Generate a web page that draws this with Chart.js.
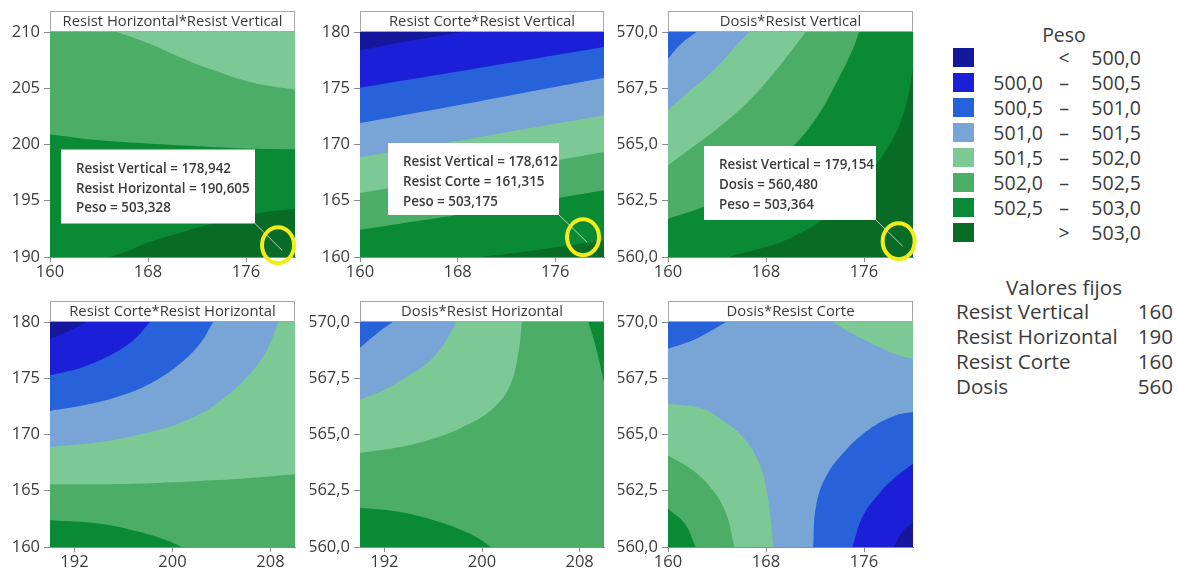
<!DOCTYPE html>
<html>
<head>
<meta charset="utf-8">
<script src="https://cdn.jsdelivr.net/npm/chart.js@4.4.1/dist/chart.umd.min.js"></script>
<style>
  body { margin: 0; background: #fff; width: 1177px; height: 571px; overflow: hidden; position: relative;
         font-family: 'Open Sans', sans-serif; color: #3b3b3b; }
  canvas { position: absolute; }
  .lg { position: absolute; white-space: nowrap; line-height: 24px; height: 24px; font-size: 19.5px; }
  .fx { font-size: 20.6px; }
  .sw { position: absolute; width: 21px; height: 19px; box-sizing: border-box; }
</style>
</head>
<body>
<canvas id="pHV"></canvas>
<canvas id="pCV"></canvas>
<canvas id="pDV"></canvas>
<canvas id="pCH"></canvas>
<canvas id="pDH"></canvas>
<canvas id="pDC"></canvas>
<div id="legend"></div>
<script>
// ---- Peso bands ----
const pesoBreaks = ['500,0', '500,5', '501,0', '501,5', '502,0', '502,5', '503,0'];
const bandColors = ['#15189a', '#1b20d8', '#2762da', '#79a5d6', '#7cc995', '#4bad66', '#0b8a35', '#086c27'];

// ---- fixed factor settings ----
const fixedNames = ['Resist Vertical', 'Resist Horizontal', 'Resist Corte', 'Dosis'];
const fixedValues = [160, 190, 160, 560];

// ---- axis ticks ----
const vertTicks = [160, 168, 176];
const horzTicks = [192, 200, 208];
const horzYTicks = [190, 195, 200, 205, 210];
const corteYTicks = [160, 165, 170, 175, 180];
const dosisYTicks = [560, 562.5, 565, 567.5, 570];

// ---- Resist Horizontal * Resist Vertical (x: Vertical, y: Horizontal) ----
const hvBand4 = [[165.5,210],[166.8,209.5],[168.1,208.97],[170.2,207.95],[172.2,207.04],[174.3,206.25],[176.3,205.56],[178.2,205.15],[180,204.88],[180,210]];
const hvBand6 = [[160,200.88],[164,200.37],[168,200.08],[172,199.84],[176,199.65],[180,199.57],[180,190],[160,190]];
const hvBand7 = [[164.9,190],[166.5,190.6],[168.1,191.33],[170.85,192.22],[173.3,192.97],[176.7,193.86],[180,194.3],[180,190]];
const hvProbe = [178.942, 190.605, 503.328];

// ---- Resist Corte * Resist Vertical (x: Vertical, y: Corte) ----
const cvBand5 = [[160,162.43],[170,164.1],[180,165.93],[180,180],[160,180]];
const cvBand4 = [[160,165.69],[170,167.45],[180,169.33],[180,180],[160,180]];
const cvBand3 = [[160,168.89],[170,170.7],[180,172.59],[180,180],[160,180]];
const cvBand2 = [[160,171.91],[170,173.9],[180,175.94],[180,180],[160,180]];
const cvBand1 = [[160,175.05],[170,176.85],[180,178.67],[180,180],[160,180]];
const cvBand0 = [[160,178.37],[164,179.2],[168.3,180],[160,180]];
const cvBand7 = [[169.8,160],[175,160.7],[180,161.48],[180,160]];
const cvProbe = [178.612, 161.315, 503.175];

// ---- Dosis * Resist Vertical (x: Vertical, y: Dosis) ----
const dvBand6 = [[165.0,560],[170.17,560.89],[174.51,562.52],[178.04,564.96],[179.39,566.67],[180,568.39],[180,570],[160,570],[160,560]];
const dvBand5 = [[160,561.7],[162.85,562.22],[165.56,562.96],[168.27,564.0],[170.44,565.04],[172.34,566.37],[173.7,567.7],[175.05,569.19],[175.6,570],[160,570]];
const dvBand4 = [[160,564.07],[162.03,564.89],[164.2,565.78],[166.37,566.81],[168.27,567.93],[169.9,569.04],[171.26,570],[160,570]];
const dvBand3 = [[160,566.52],[161.49,567.26],[163.12,568.0],[164.75,568.89],[165.83,569.56],[166.64,570],[160,570]];
const dvBand2 = [[160,568.81],[161.08,569.48],[162.31,570],[160,570]];
const dvProbe = [179.154, 560.480, 503.364];

// ---- Resist Corte * Resist Horizontal (x: Horizontal, y: Corte) ----
const chBand6 = [[190,160],[190,162.37],[194.08,162.07],[197.35,161.33],[199.52,160.59],[200.75,160]];
const chBand4 = [[190,165.57],[196.8,165.63],[202.24,165.87],[206.33,166.13],[210,166.46],[210,180],[190,180]];
const chBand3 = [[190,168.89],[194.08,169.33],[198.16,170.22],[201.2,171.3],[203.6,172.74],[206.33,175.41],[207.69,177.48],[208.64,180],[190,180]];
const chBand2 = [[190,172.09],[192.72,172.59],[195.44,173.33],[198.16,174.52],[200.61,176.3],[202.24,178.07],[203.33,180],[190,180]];
const chBand1 = [[190,175.26],[192.72,176.0],[195.17,177.19],[196.8,178.37],[198.16,180],[190,180]];
const chBand0 = [[190,178.52],[191.36,179.11],[193.0,180],[190,180]];

// ---- Dosis * Resist Horizontal (x: Horizontal, y: Dosis) ----
const dhBand4 = [[190,564.18],[193.27,564.44],[195.99,564.81],[198.71,565.41],[200.88,566.15],[202.24,567.11],[202.93,568.44],[203.28,570],[190,570]];
const dhBand3 = [[190,566.55],[191.9,566.96],[193.81,567.56],[195.44,568.15],[196.8,568.96],[197.89,570],[190,570]];
const dhBand2 = [[190,568.86],[191.36,569.48],[192.67,570],[190,570]];
const dhBand6a = [[208.72,570],[209.18,569.19],[209.59,568.3],[210,567.33],[210,570]];
const dhBand6b = [[190,560],[190,561.75],[193.27,561.56],[196.53,561.11],[199.25,560.52],[200.75,560]];

// ---- Dosis * Resist Corte (x: Corte, y: Dosis) ----
const dcBand2a = [[160,568.81],[162.03,569.19],[163.66,569.66],[164.75,570],[160,570]];
const dcBand4a = [[173.43,570],[175.05,569.48],[177.22,568.89],[178.85,568.52],[180,568.37],[180,570]];
const dcBand4b = [[160,566.37],[162.85,566.15],[164.5,565.6],[166.1,564.9],[167.46,563.7],[168.14,562.22],[168.6,560],[160,560]];
const dcBand5 = [[160,564.07],[162.03,563.41],[163.66,562.52],[164.75,561.48],[165.42,560],[160,560]];
const dcBand6 = [[160,561.7],[161.36,561.04],[162.25,560],[160,560]];
const dcBand2b = [[171.85,560],[172.07,561.78],[172.88,563.11],[174.51,564.3],[176.68,565.33],[178.58,565.85],[180,566.0],[180,560]];
const dcBand1 = [[175.05,560],[175.87,561.33],[177.22,562.37],[178.58,563.11],[180,563.7],[180,560]];
const dcBand0 = [[178.44,560],[179.12,560.67],[180,561.11],[180,560]];

// ---------------------------------------------------------------
const TEXT = '#3b3b3b';
const FONT = "'Open Sans', sans-serif";
const comma = (v, d) => v.toFixed(d).replace('.', ',');

function rect(xr, yr) {
  return [[xr[0], yr[0]], [xr[1], yr[0]], [xr[1], yr[1]], [xr[0], yr[1]]];
}

// Points lying on the plot frame are polygon corners: repeating them keeps
// the spline sharp there while the contour curve between them stays smooth.
function toPoints(points, xr, yr) {
  const out = [];
  points.forEach(([x, y]) => {
    const onFrame = x === xr[0] || x === xr[1] || y === yr[0] || y === yr[1];
    out.push({ x, y });
    if (onFrame) out.push({ x, y });
  });
  return out;
}

function bandSet(points, band, i, xr, yr) {
  return {
    data: toPoints(points, xr, yr),
    backgroundColor: bandColors[band],
    borderWidth: 0,
    pointRadius: 0,
    tension: 0.4,
    fill: 'shape',
    order: -i
  };
}

function headerPlugin(title) {
  return {
    id: 'header',
    afterDraw(chart) {
      const { ctx, chartArea: ca } = chart;
      ctx.save();
      ctx.fillStyle = '#fff';
      ctx.fillRect(ca.left, ca.top - 20, ca.right - ca.left, 20);
      ctx.strokeStyle = '#a6a6a6';
      ctx.lineWidth = 1;
      ctx.strokeRect(ca.left + 0.5, ca.top - 20.5, ca.right - ca.left - 1, 20);
      ctx.fillStyle = TEXT;
      ctx.font = `14.8px ${FONT}`;
      ctx.textAlign = 'center';
      ctx.textBaseline = 'middle';
      ctx.fillText(title, (ca.left + ca.right) / 2, ca.top - 10);
      ctx.restore();
    }
  };
}

function probePlugin(probe, names, box) {
  return {
    id: 'probe',
    afterDraw(chart) {
      const { ctx, chartArea: ca, scales } = chart;
      const px = scales.x.getPixelForValue(probe[0]);
      const py = scales.y.getPixelForValue(probe[1]);
      const bx = ca.left + box[0], by = ca.top + box[1], bw = box[2], bh = box[3];
      ctx.save();
      ctx.strokeStyle = 'rgba(205,220,205,0.85)';
      ctx.lineWidth = 1;
      ctx.beginPath();
      ctx.moveTo(bx + bw, by + bh);
      ctx.lineTo(px, py);
      ctx.stroke();
      ctx.fillStyle = '#fff';
      ctx.fillRect(bx, by, bw, bh);
      ctx.fillStyle = TEXT;
      ctx.font = `600 13.4px ${FONT}`;
      ctx.textAlign = 'left';
      ctx.textBaseline = 'middle';
      const lines = [
        `${names[0]} = ${comma(probe[0], 3)}`,
        `${names[1]} = ${comma(probe[1], 3)}`,
        `Peso = ${comma(probe[2], 3)}`
      ];
      lines.forEach((t, k) => ctx.fillText(t, bx + 15, by + 19.5 + k * 19.8));
      ctx.strokeStyle = '#f2ec18';
      ctx.lineWidth = 4;
      ctx.beginPath();
      ctx.ellipse(px - 4, py - 5, 16, 18, 0, 0, Math.PI * 2);
      ctx.stroke();
      ctx.restore();
    }
  };
}

function panel(cfg) {
  const plotW = cfg.plot[2], plotH = cfg.plot[3];
  const canvas = document.getElementById(cfg.id);
  const W = plotW + 56, H = plotH + 62;
  canvas.width = W; canvas.height = H;
  canvas.style.left = (cfg.plot[0] - 50) + 'px';
  canvas.style.top = (cfg.plot[1] - 32) + 'px';
  canvas.style.width = W + 'px';
  canvas.style.height = H + 'px';

  const layers = [[rect(cfg.xr, cfg.yr), cfg.base]].concat(cfg.layers);
  const datasets = layers.map(([pts, band], i) => bandSet(pts, band, i, cfg.xr, cfg.yr));
  const plugins = [headerPlugin(cfg.title)];
  if (cfg.probe) plugins.push(probePlugin(cfg.probe, cfg.names, cfg.box));

  const tickFont = { family: FONT, size: 16.5 };
  new Chart(canvas, {
    type: 'line',
    data: { datasets },
    plugins,
    options: {
      responsive: false,
      maintainAspectRatio: false,
      devicePixelRatio: 1,
      animation: false,
      events: [],
      layout: { padding: { top: 32, right: 6, left: 0, bottom: 0 } },
      plugins: { legend: { display: false }, tooltip: { enabled: false } },
      scales: {
        x: {
          type: 'linear', min: cfg.xr[0], max: cfg.xr[1],
          afterBuildTicks: s => { s.ticks = cfg.xTicks.map(v => ({ value: v })); },
          afterFit: s => { s.height = 30; },
          grid: { drawOnChartArea: false, tickLength: 5, color: '#8c8c8c' },
          border: { color: '#8c8c8c' },
          ticks: { font: tickFont, color: TEXT, padding: 0, maxRotation: 0, autoSkip: false,
                   callback: v => String(v) }
        },
        y: {
          type: 'linear', min: cfg.yr[0], max: cfg.yr[1],
          afterBuildTicks: s => { s.ticks = cfg.yTicks.map(v => ({ value: v })); },
          afterFit: s => { s.width = 50; },
          grid: { drawOnChartArea: false, tickLength: 6, color: '#8c8c8c' },
          border: { color: '#8c8c8c' },
          ticks: { font: tickFont, color: TEXT, padding: 4, autoSkip: false,
                   callback: v => cfg.yDec ? comma(v, 1) : String(v) }
        }
      }
    }
  });
}

panel({ id: 'pHV', title: 'Resist Horizontal*Resist Vertical', plot: [50, 32, 245, 225],
  xr: [160, 180], yr: [190, 210], xTicks: vertTicks, yTicks: horzYTicks, yDec: false, base: 5,
  layers: [[hvBand4, 4], [hvBand6, 6], [hvBand7, 7]],
  probe: hvProbe, names: ['Resist Vertical', 'Resist Horizontal'], box: [11, 117.5, 194, 74] });

panel({ id: 'pCV', title: 'Resist Corte*Resist Vertical', plot: [360, 32, 244, 225],
  xr: [160, 180], yr: [160, 180], xTicks: vertTicks, yTicks: corteYTicks, yDec: false, base: 6,
  layers: [[cvBand5, 5], [cvBand4, 4], [cvBand3, 3], [cvBand2, 2], [cvBand1, 1], [cvBand0, 0], [cvBand7, 7]],
  probe: cvProbe, names: ['Resist Vertical', 'Resist Corte'], box: [28, 111, 171, 72] });

panel({ id: 'pDV', title: 'Dosis*Resist Vertical', plot: [668, 32, 245, 225],
  xr: [160, 180], yr: [560, 570], xTicks: vertTicks, yTicks: dosisYTicks, yDec: true, base: 7,
  layers: [[dvBand6, 6], [dvBand5, 5], [dvBand4, 4], [dvBand3, 3], [dvBand2, 2]],
  probe: dvProbe, names: ['Resist Vertical', 'Dosis'], box: [36, 114, 172, 74] });

panel({ id: 'pCH', title: 'Resist Corte*Resist Horizontal', plot: [50, 322, 245, 225],
  xr: [190, 210], yr: [160, 180], xTicks: horzTicks, yTicks: corteYTicks, yDec: false, base: 5,
  layers: [[chBand6, 6], [chBand4, 4], [chBand3, 3], [chBand2, 2], [chBand1, 1], [chBand0, 0]] });

panel({ id: 'pDH', title: 'Dosis*Resist Horizontal', plot: [360, 322, 244, 225],
  xr: [190, 210], yr: [560, 570], xTicks: horzTicks, yTicks: dosisYTicks, yDec: true, base: 5,
  layers: [[dhBand4, 4], [dhBand3, 3], [dhBand2, 2], [dhBand6a, 6], [dhBand6b, 6]] });

panel({ id: 'pDC', title: 'Dosis*Resist Corte', plot: [668, 322, 245, 225],
  xr: [160, 180], yr: [560, 570], xTicks: vertTicks, yTicks: dosisYTicks, yDec: true, base: 3,
  layers: [[dcBand2a, 2], [dcBand4a, 4], [dcBand4b, 4], [dcBand5, 5], [dcBand6, 6],
           [dcBand2b, 2], [dcBand1, 1], [dcBand0, 0]] });

// ---- legend: Peso bands and fixed settings ----
(function buildLegend() {
  const host = document.getElementById('legend');
  const add = (cls, css, text) => {
    const d = document.createElement('div');
    d.className = cls;
    Object.assign(d.style, css);
    if (text !== undefined) d.textContent = text;
    host.appendChild(d);
    return d;
  };
  add('lg', { left: '964px', width: '200px', textAlign: 'center', top: '23px' }, 'Peso');
  const rows = [['', '<', pesoBreaks[0]]];
  for (let i = 1; i < pesoBreaks.length; i++) rows.push([pesoBreaks[i - 1], '–', pesoBreaks[i]]);
  rows.push(['', '>', pesoBreaks[pesoBreaks.length - 1]]);
  rows.forEach((r, i) => {
    const cy = 57.7 + 25 * i;
    add('sw', { left: '953px', top: (cy - 9.5) + 'px', background: bandColors[i] });
    add('lg', { right: (1177 - 1043) + 'px', top: (cy - 12) + 'px', textAlign: 'right' }, r[0]);
    add('lg', { left: '1044px', width: '40px', top: (cy - 12) + 'px', textAlign: 'center' }, r[1]);
    add('lg', { right: (1177 - 1141) + 'px', top: (cy - 12) + 'px', textAlign: 'right' }, r[2]);
  });
  add('lg fx', { left: '964px', width: '200px', textAlign: 'center', top: (286.7 - 12) + 'px' }, 'Valores fijos');
  fixedNames.forEach((n, i) => {
    const cy = 310.7 + 25 * i;
    add('lg fx', { left: '956px', top: (cy - 12) + 'px' }, n);
    add('lg fx', { right: (1177 - 1173) + 'px', top: (cy - 12) + 'px', textAlign: 'right' }, String(fixedValues[i]));
  });
})();
</script>
</body>
</html>
